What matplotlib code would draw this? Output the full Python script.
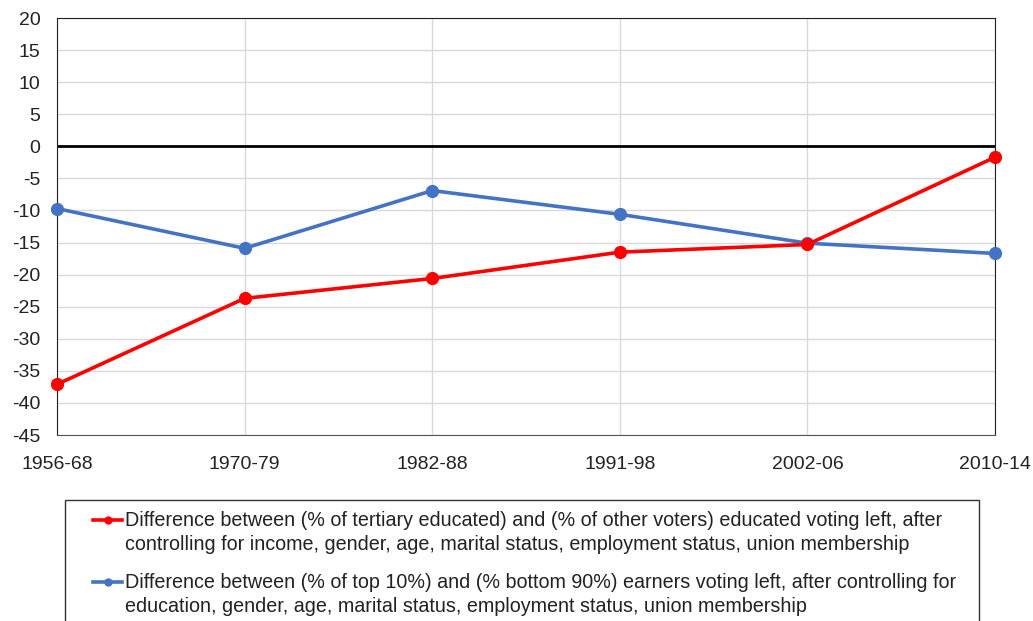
import matplotlib.pyplot as plt
from matplotlib.lines import Line2D
from matplotlib.patches import Rectangle

plt.rcParams['font.family'] = ['Liberation Sans', 'DejaVu Sans']
plt.rcParams['axes.unicode_minus'] = False

periods = ['1956-68', '1970-79', '1982-88', '1991-98', '2002-06', '2010-14']
education = [-37.1, -23.7, -20.6, -16.5, -15.3, -1.7]
income = [-9.7, -15.9, -6.9, -10.6, -15.1, -16.7]

edu_label = ('Difference between (% of tertiary educated) and (% of other voters) educated voting left, after\n'
             'controlling for income, gender, age, marital status, employment status, union membership')
inc_label = ('Difference between (% of top 10%) and (% bottom 90%) earners voting left, after controlling for\n'
             'education, gender, age, marital status, employment status, union membership')

red = '#ff0000'
blue = '#4472c4'
W, H = 1033, 621

fig = plt.figure(figsize=(10.33, 6.21), dpi=100)
ax = fig.add_axes([0.0552, 0.2995, 0.908, 0.6715])

x = list(range(len(periods)))
ax.plot(x, education, color=red, lw=2.6, marker='o', ms=8.5, zorder=4, clip_on=False)
ax.plot(x, income, color=blue, lw=2.6, marker='o', ms=8.5, zorder=3, clip_on=False)
ax.axhline(0, color='black', lw=2, zorder=2)

ax.set_xlim(0, len(periods) - 1)
ax.set_ylim(-45, 20)
ax.set_yticks(range(-45, 21, 5))
ax.set_xticks(x)
ax.set_xticklabels(periods)
ax.tick_params(length=0, labelsize=14, colors='#222222')
ax.tick_params(axis='x', pad=15)
ax.tick_params(axis='y', pad=12)
ax.grid(True, color='#d9d9d9', lw=1)
ax.set_axisbelow(True)
for s in ['left', 'right', 'top']:
    ax.spines[s].set_color('#222222')
ax.spines['bottom'].set_color('#555555')

# legend box, cut off by the bottom edge like the original
fig.add_artist(Rectangle((65 / W, -0.05), 914 / W, 0.05 + 121 / H,
                         transform=fig.transFigure, fill=False,
                         edgecolor='#333333', lw=1))

# legend entries: handle sits beside the first line of each label
entries = [(edu_label, red, 520), (inc_label, blue, 582)]
for label, col, ypx in entries:
    yf = 1 - ypx / H
    fig.add_artist(Line2D([93 / W, 107.5 / W, 122 / W], [yf, yf, yf],
                          transform=fig.transFigure, color=col, lw=2.6,
                          marker='o', ms=5, markevery=[1]))
    fig.text(125 / W, 1 - (ypx - 8.5) / H, label, fontsize=14.2,
             color='#222222', va='top', linespacing=1.32)

fig.savefig('out.png', dpi=100)
